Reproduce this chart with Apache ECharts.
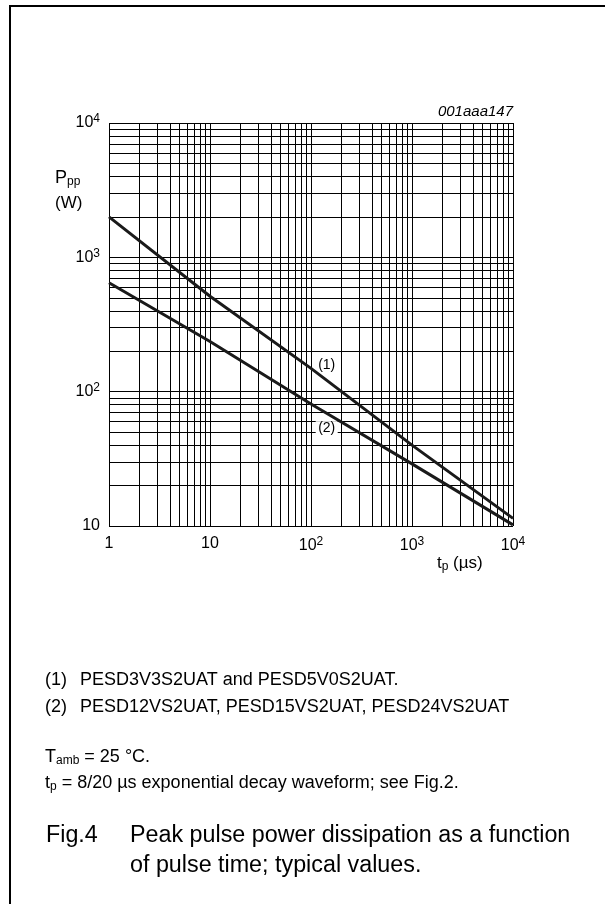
<!DOCTYPE html>
<html><head><meta charset="utf-8">
<script src="https://cdn.jsdelivr.net/npm/echarts@6/dist/echarts.min.js"></script>
<style>html,body{margin:0;padding:0;background:#fff}#c{width:605px;height:904px}</style>
</head><body><div id="c"></div>
<script>
// ---- data ----
const tp = [1, 10, 100, 1000, 10000];              // pulse time, µs
const ppp1 = [2000, 513, 149, 40, 11.4];            // curve (1), W
const ppp2 = [647, 236, 81, 29, 10.2];              // curve (2), W
const xGridValues = [1,2,3,4,5,6,7,8,9,10,20,30,40,50,60,70,80,90,100,200,300,400,500,600,700,800,900,1000,2000,3000,4000,5000,6000,7000,8000,9000,10000];
const yGridValues = [10,20,30,40,50,60,70,80,90,100,200,300,400,500,600,700,800,900,1000,2000,3000,4000,5000,6000,7000,8000,9000,10000];
const xTickLabels = ['1', '10', '10{s|2}', '10{s|3}', '10{s|4}'];
const yTickLabels = ['1', '10', '10{s|2}', '10{s|3}', '10{s|4}'];
const curveLabels = ['(1)', '(2)'];
const curveLabelPos = [[143, 158], [143, 53.5]];

const FONT = 'Liberation Sans, Arial, Helvetica, sans-serif';
const chart = echarts.init(document.getElementById('c'), null, {renderer: 'canvas'});
const supRich = { s: { fontSize: 12, fontFamily: FONT, color: '#000', padding: [0, 0, 8, 0] } };
const subRich = { sub: { fontSize: 12, fontFamily: FONT, padding: [8, 0, 0, 0] } };

function curveSeries(name, vals, idx) {
  return {
    name: name, type: 'line', z: 3,
    data: tp.map((t, i) => [t, vals[i]]),
    symbol: 'none', smooth: false,
    lineStyle: { color: '#1a1a1a', width: 3 },
    animation: false,
    markPoint: {
      z: 2, silent: true, animation: false,
      symbol: 'rect', symbolSize: [22, 14],
      itemStyle: { color: '#fff' },
      label: { show: true, position: 'inside', color: '#000', fontSize: 14, fontFamily: FONT, formatter: curveLabels[idx] },
      data: [{ coord: curveLabelPos[idx] }]
    }
  };
}

const option = {
  backgroundColor: '#fff',
  animation: false,
  grid: { left: 109, right: 92, top: 123, bottom: 378, containLabel: false },
  xAxis: {
    type: 'log', logBase: 10, min: 1, max: 10000,
    axisLine: { show: false }, axisTick: { show: false }, splitLine: { show: false },
    axisLabel: {
      margin: 10, fontSize: 16, fontFamily: FONT, color: '#000',
      formatter: v => xTickLabels[Math.round(Math.log10(v))],
      rich: supRich
    }
  },
  yAxis: {
    type: 'log', logBase: 10, min: 10, max: 10000,
    axisLine: { show: false }, axisTick: { show: false }, splitLine: { show: false },
    axisLabel: {
      margin: 9, fontSize: 16, fontFamily: FONT, color: '#000',
      formatter: v => yTickLabels[Math.round(Math.log10(v))],
      rich: supRich
    }
  },
  series: [
    {
      name: 'grid', type: 'line', z: 1, data: [[1, 10]], symbol: 'none',
      lineStyle: { opacity: 0 }, animation: false, silent: true,
      markLine: {
        z: 1, silent: true, animation: false, symbol: ['none', 'none'],
        label: { show: false },
        lineStyle: { color: '#000', width: 1, type: 'solid' },
        data: xGridValues.map(v => ({ xAxis: v })).concat(yGridValues.map(v => ({ yAxis: v })))
      }
    },
    curveSeries('(1)', ppp1, 0),
    curveSeries('(2)', ppp2, 1)
  ],
  graphic: [
    { type: 'polyline', shape: { points: [[10, 904], [10, 6], [605, 6]] }, style: { stroke: '#000', lineWidth: 2, fill: null } },
    { type: 'text', x: 513, y: 112, style: { text: '001aaa147', fontSize: 15, fontStyle: 'italic', fontFamily: FONT, fill: '#000', textAlign: 'right', textVerticalAlign: 'middle' } },
    { type: 'text', x: 55, y: 178, style: { text: 'P{sub|pp}', fontSize: 18, fontFamily: FONT, fill: '#000', textVerticalAlign: 'middle', rich: subRich } },
    { type: 'text', x: 55, y: 203, style: { text: '(W)', fontSize: 17, fontFamily: FONT, fill: '#000', textVerticalAlign: 'middle' } },
    { type: 'text', x: 437, y: 563, style: { text: 't{sub|p} (µs)', fontSize: 17, fontFamily: FONT, fill: '#000', textVerticalAlign: 'middle', rich: subRich } },
    { type: 'text', x: 45, y: 680, style: { text: '(1)', fontSize: 18, fontFamily: FONT, fill: '#000', textVerticalAlign: 'middle' } },
    { type: 'text', x: 80, y: 680, style: { text: 'PESD3V3S2UAT and PESD5V0S2UAT.', fontSize: 18, fontFamily: FONT, fill: '#000', textVerticalAlign: 'middle' } },
    { type: 'text', x: 45, y: 707, style: { text: '(2)', fontSize: 18, fontFamily: FONT, fill: '#000', textVerticalAlign: 'middle' } },
    { type: 'text', x: 80, y: 707, style: { text: 'PESD12VS2UAT, PESD15VS2UAT, PESD24VS2UAT', fontSize: 18, fontFamily: FONT, fill: '#000', textVerticalAlign: 'middle' } },
    { type: 'text', x: 45, y: 757, style: { text: 'T{sub|amb} = 25 °C.', fontSize: 18, fontFamily: FONT, fill: '#000', textVerticalAlign: 'middle', rich: subRich } },
    { type: 'text', x: 45, y: 783, style: { text: 't{sub|p} = 8/20 µs exponential decay waveform; see Fig.2.', fontSize: 18, fontFamily: FONT, fill: '#000', textVerticalAlign: 'middle', rich: subRich } },
    { type: 'text', x: 46, y: 836, style: { text: 'Fig.4', fontSize: 23.3, fontFamily: FONT, fill: '#000', textVerticalAlign: 'middle' } },
    { type: 'text', x: 130, y: 836, style: { text: 'Peak pulse power dissipation as a function', fontSize: 23.3, fontFamily: FONT, fill: '#000', textVerticalAlign: 'middle' } },
    { type: 'text', x: 130, y: 866, style: { text: 'of pulse time; typical values.', fontSize: 23.3, fontFamily: FONT, fill: '#000', textVerticalAlign: 'middle' } }
  ]
};
chart.setOption(option);
</script></body></html>
